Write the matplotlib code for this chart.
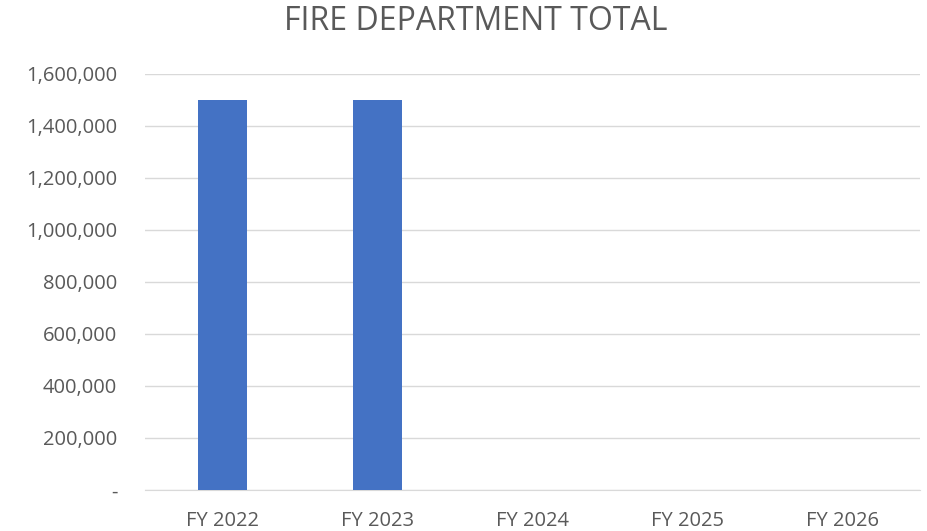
import numpy as np
import matplotlib.pyplot as plt
from matplotlib.ticker import FuncFormatter

# --- Data ---
categories = ['FY 2022', 'FY 2023', 'FY 2024', 'FY 2025', 'FY 2026']
totals = [1500000, 1500000, 0, 0, 0]
y_ticks = np.arange(0, 1600001, 200000)

plt.rcParams['font.family'] = ['Open Sans', 'DejaVu Sans']

fig = plt.figure(figsize=(9.27, 5.31), dpi=100)
ax = fig.add_axes([145 / 927, 1 - 490 / 531, 775 / 927, (490 - 74) / 531])

x = np.arange(len(categories))
ax.bar(x, totals, width=0.31, color='#4472C4', zorder=3)

ax.set_xlim(-0.5, len(categories) - 0.5)
ax.set_ylim(0, 1600000)
ax.set_yticks(y_ticks)
ax.yaxis.set_major_formatter(FuncFormatter(lambda v, p: '-' if v == 0 else f'{v:,.0f}'))
ax.set_xticks(x)
ax.set_xticklabels(categories)

ax.grid(axis='y', color='#D9D9D9', linewidth=1, zorder=0)
for s in ['top', 'right', 'left']:
    ax.spines[s].set_visible(False)
ax.spines['bottom'].set_color('#D9D9D9')
ax.tick_params(axis='both', length=0, labelsize=14.5, colors='#595959')
ax.tick_params(axis='x', pad=15)
ax.tick_params(axis='y', pad=20)

fig.text(476 / 927, 1 - 21 / 531, 'FIRE DEPARTMENT TOTAL', ha='center', va='center',
         fontsize=23, color='#595959')

fig.savefig('out.png', dpi=100)
